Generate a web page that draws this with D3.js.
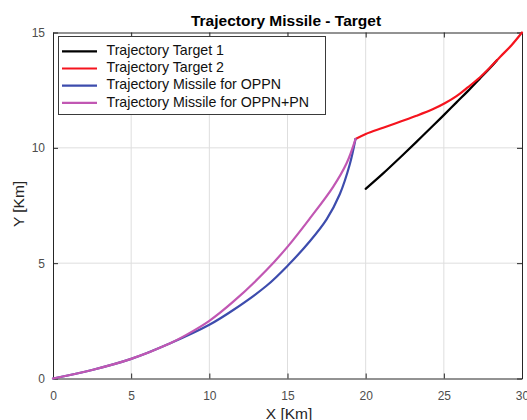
<!DOCTYPE html>
<html>
<head>
<meta charset="utf-8">
<script src="https://cdn.jsdelivr.net/npm/d3@7"></script>
<style>
  body { margin: 0; background: #fff; }
  svg { display: block; font-family: "Liberation Sans", Arial, sans-serif; }
</style>
</head>
<body>
<div id="chart"></div>
<script>
// data (km)
var target1X = [20.0, 21.12, 22.19, 23.25, 24.32, 25.06, 25.81, 26.55, 27.3, 27.94, 28.4];
var target1Y = [8.22, 8.89, 9.57, 10.26, 10.97, 11.46, 11.97, 12.47, 13.0, 13.45, 13.8];

var target2X = [19.35, 20.01, 21.12, 22.19, 23.25, 24.32, 25.06, 25.81, 26.55, 27.3, 27.94, 28.58, 29.33, 30];
var target2Y = [10.38, 10.6, 10.87, 11.13, 11.39, 11.68, 11.93, 12.24, 12.63, 13.05, 13.47, 13.93, 14.45, 15];

var oppnX = [0, 2.5, 5, 7.5, 10, 11.53, 13.66, 15.05, 16.43, 17.5, 18.35, 18.99, 19.35];
var oppnY = [0, 0.37, 0.85, 1.53, 2.33, 2.97, 4.02, 4.92, 5.95, 6.9, 8.0, 9.3, 10.38];

var oppnPnX = [0, 2.5, 5, 7.5, 8.5, 10, 11.53, 13.66, 15.05, 16.43, 17.92, 18.78, 19.35];
var oppnPnY = [0, 0.37, 0.85, 1.53, 1.88, 2.5, 3.33, 4.7, 5.75, 6.94, 8.31, 9.33, 10.38];

var xTicks = [0, 5, 10, 15, 20, 25, 30];
var yTicks = [0, 5, 10, 15];

var series = [
  {name: "Trajectory Target 1", xs: target1X, ys: target1Y, color: "#000000"},
  {name: "Trajectory Target 2", xs: target2X, ys: target2Y, color: "#f5141e"},
  {name: "Trajectory Missile for OPPN", xs: oppnX, ys: oppnY, color: "#3d4cad"},
  {name: "Trajectory Missile for OPPN+PN", xs: oppnPnX, ys: oppnPnY, color: "#c157b3"}
];

// set the dimensions and margins of the graph
var margin = {top: 32.5, right: 5, bottom: 41.5, left: 53},
    width = 527 - margin.left - margin.right,
    height = 420 - margin.top - margin.bottom;

var svgRoot = d3.select("#chart")
  .append("svg")
    .attr("width", 527)
    .attr("height", 420);

var svg = svgRoot.append("g")
    .attr("transform", "translate(" + margin.left + "," + margin.top + ")");

var x = d3.scaleLinear().domain([0, 30]).range([0, width]);
var y = d3.scaleLinear().domain([0, 15]).range([height, 0]);

// grid
svg.append("g")
  .selectAll("line")
  .data(xTicks.slice(1, -1))
  .enter().append("line")
    .attr("x1", d => x(d)).attr("x2", d => x(d))
    .attr("y1", 0).attr("y2", height)
    .attr("stroke", "#dedede").attr("stroke-width", 1);
svg.append("g")
  .selectAll("line")
  .data(yTicks.slice(1, -1))
  .enter().append("line")
    .attr("x1", 0).attr("x2", width)
    .attr("y1", d => y(d)).attr("y2", d => y(d))
    .attr("stroke", "#dedede").attr("stroke-width", 1);

// axes (ticks inward, box on)
var axisColor = "#262626";
var bottomAxis = svg.append("g")
    .attr("transform", "translate(0," + height + ")")
    .call(d3.axisBottom(x).tickValues(xTicks).tickSize(-5).tickSizeOuter(0).tickPadding(13));
var leftAxis = svg.append("g")
    .call(d3.axisLeft(y).tickValues(yTicks).tickSize(-5).tickSizeOuter(0).tickPadding(8));
var topAxis = svg.append("g")
    .call(d3.axisTop(x).tickValues(xTicks).tickSize(-5).tickSizeOuter(0).tickFormat(""));
var rightAxis = svg.append("g")
    .attr("transform", "translate(" + width + ",0)")
    .call(d3.axisRight(y).tickValues(yTicks).tickSize(-5).tickSizeOuter(0).tickFormat(""));

[bottomAxis, leftAxis, topAxis, rightAxis].forEach(function(a) {
  a.select(".domain").attr("stroke", axisColor);
  a.selectAll(".tick line").attr("stroke", axisColor);
  a.selectAll(".tick text")
    .attr("fill", "#4d4d4d")
    .style("font-size", "12px")
    .style("font-family", "Liberation Sans, Arial, sans-serif");
});

// lines
var line = d3.line()
    .curve(d3.curveCatmullRom.alpha(0.5))
    .x(d => x(d[0]))
    .y(d => y(d[1]));

series.forEach(function(s) {
  var pts = s.xs.map((v, i) => [v, s.ys[i]]);
  svg.append("path")
      .datum(pts)
      .attr("fill", "none")
      .attr("stroke", s.color)
      .attr("stroke-width", 2.2)
      .attr("stroke-linejoin", "round")
      .attr("stroke-linecap", "round")
      .attr("d", line);
});

// title
svgRoot.append("text")
  .attr("x", 286)
  .attr("y", 25.5)
  .attr("text-anchor", "middle")
  .style("font-size", "15.5px")
  .style("font-weight", "bold")
  .attr("fill", "#000")
  .text("Trajectory Missile - Target");

// X axis label
svgRoot.append("text")
  .attr("x", 289)
  .attr("y", 418.5)
  .attr("text-anchor", "middle")
  .style("font-size", "15.5px")
  .attr("fill", "#262626")
  .text("X [Km]");

// Y axis label
svgRoot.append("text")
  .attr("transform", "rotate(-90)")
  .attr("x", -204)
  .attr("y", 24)
  .attr("text-anchor", "middle")
  .style("font-size", "15.5px")
  .attr("fill", "#262626")
  .text("Y [Km]");

// Handmade legend
svgRoot.append("rect")
  .attr("x", 58.5).attr("y", 36.5)
  .attr("width", 267).attr("height", 78)
  .attr("fill", "#fff")
  .attr("stroke", "#3a3a3a")
  .attr("stroke-width", 1);

series.forEach(function(s, i) {
  var ly = 51.3 + i * 17.2;
  svgRoot.append("line")
    .attr("x1", 62).attr("x2", 97)
    .attr("y1", ly).attr("y2", ly)
    .attr("stroke", s.color)
    .attr("stroke-width", 2.2);
  svgRoot.append("text")
    .attr("x", 106.5).attr("y", ly)
    .attr("dominant-baseline", "middle")
    .style("font-size", "14.2px")
    .attr("fill", "#111")
    .text(s.name);
});
</script>
</body>
</html>
